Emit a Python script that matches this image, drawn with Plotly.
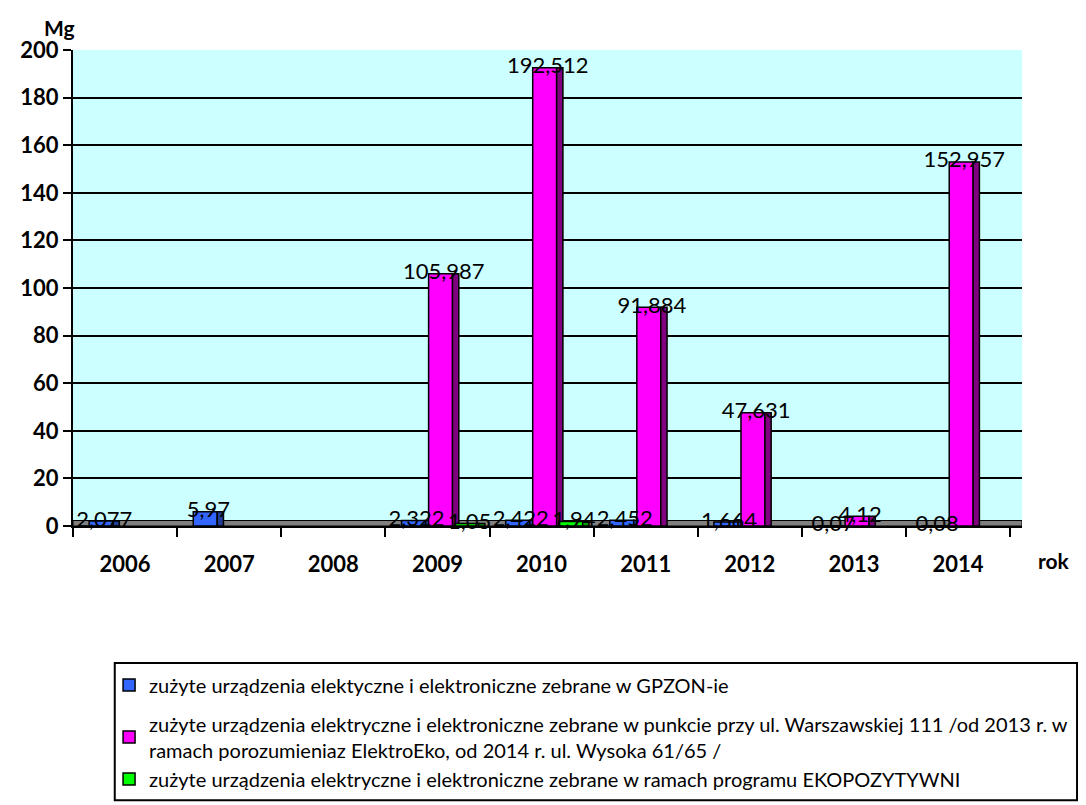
import plotly.graph_objects as go

# ---------------- data ----------------
years = ["2006", "2007", "2008", "2009", "2010", "2011", "2012", "2013", "2014"]
gpzon = [2.077, 5.97, None, 2.322, 2.422, 2.452, 1.664, 0.07, 0.08]
punkt = [None, None, None, 105.987, 192.512, 91.884, 47.631, 4.12, 152.957]
ekopoz = [None, None, None, 1.05, 1.94, None, None, None, None]

names = [
    "zużyte urządzenia elektyczne i elektroniczne zebrane w GPZON-ie",
    "zużyte urządzenia elektryczne i elektroniczne zebrane w punkcie przy ul. Warszawskiej 111 /od 2013 r. w<br>ramach porozumieniaz ElektroEko, od 2014 r. ul. Wysoka 61/65 /",
    "zużyte urządzenia elektryczne i elektroniczne zebrane w ramach programu EKOPOZYTYWNI",
]
y_ticks = list(range(0, 201, 20))

# ---------------- styling ----------------
front_cols = ["#3366FF", "#FF00FF", "#00FF00"]
side_cols = ["#1F3D99", "#800080", "#00A000"]
groups = ["g1", "g2", "g2"]
bar_w = 0.23
side_w = 0.06
lefts = [-0.345, -0.085, 0.165]
FONT = "Lato"

idx = list(range(len(years)))
fig = go.Figure()

for s, vals in enumerate([gpzon, punkt, ekopoz]):
    fig.add_trace(go.Bar(
        x=idx, y=vals, name=names[s], offset=lefts[s], width=bar_w,
        marker=dict(color=front_cols[s], line=dict(color="black", width=1.5)),
        legendgroup=groups[s], showlegend=True,
    ))
    fig.add_trace(go.Bar(
        x=idx, y=vals, offset=lefts[s] + bar_w, width=side_w,
        marker=dict(color=side_cols[s], line=dict(color="black", width=1.5)),
        legendgroup=groups[s], showlegend=False, hoverinfo="skip",
    ))

for s, vals in enumerate([gpzon, punkt, ekopoz]):
    xs, ys, ts = [], [], []
    for i, v in zip(idx, vals):
        if v is None:
            continue
        xs.append(i + lefts[s] + bar_w / 2 + 0.03)
        ys.append(v)
        ts.append(str(v).replace(".", ","))
    fig.add_trace(go.Scatter(
        x=xs, y=ys, text=ts, mode="text", textposition="middle center",
        textfont=dict(family=FONT, size=22, color="black"),
        showlegend=False, hoverinfo="skip", cliponaxis=False,
    ))

# floor band
fig.add_shape(type="rect", xref="x", yref="y", x0=-0.5, x1=8.614, y0=0, y1=2.3,
              fillcolor="#808080", line=dict(color="black", width=1), layer="below")

# legend frame
fig.add_shape(type="rect", xref="paper", yref="paper",
              x0=0.044, x1=1.058, y0=-0.576, y1=-0.288,
              line=dict(color="black", width=2), fillcolor="rgba(0,0,0,0)")

fig.add_annotation(text="<b>Mg</b>", xref="paper", yref="paper", x=-0.0145, y=1.048,
                   xanchor="center", yanchor="middle",
                   showarrow=False, font=dict(family=FONT, size=21, color="black"))
fig.add_annotation(text="<b>rok</b>", xref="paper", yref="paper", x=1.034, y=-0.0735,
                   xanchor="center", yanchor="middle",
                   showarrow=False, font=dict(family=FONT, size=21, color="black"))

fig.update_layout(
    width=1086, height=805,
    margin=dict(l=54, r=72, t=42, b=287),
    paper_bgcolor="white", plot_bgcolor="#CCFFFF",
    barmode="overlay",
    font=dict(family=FONT, color="black"),
    legend=dict(
        x=0.038, y=-0.293, xanchor="left", yanchor="top",
        font=dict(family=FONT, size=20, color="black"),
        traceorder="grouped", tracegroupgap=10, itemwidth=30,
        bgcolor="rgba(0,0,0,0)", borderwidth=0,
    ),
    xaxis=dict(
        range=[-0.5, 8.614], tickmode="array", tickvals=idx, ticktext=years,
        ticks="", showgrid=False, zeroline=False,
        showline=True, linecolor="black", linewidth=2,
        tickfont=dict(family=FONT, size=22, color="black", weight="bold"),
        ticklabelstandoff=18,
        minor=dict(tickmode="linear", tick0=-0.5, dtick=1, ticks="outside",
                   ticklen=9, tickwidth=2, tickcolor="black", showgrid=False),
    ),
    yaxis=dict(
        range=[0, 200], tickmode="array", tickvals=y_ticks,
        ticks="outside", ticklen=8, tickwidth=2, tickcolor="black",
        showgrid=True, gridcolor="black", gridwidth=2, zeroline=False,
        showline=True, linecolor="black", linewidth=2,
        tickfont=dict(family=FONT, size=22, color="black", weight="bold"),
    ),
)

fig.write_html("out.html")
